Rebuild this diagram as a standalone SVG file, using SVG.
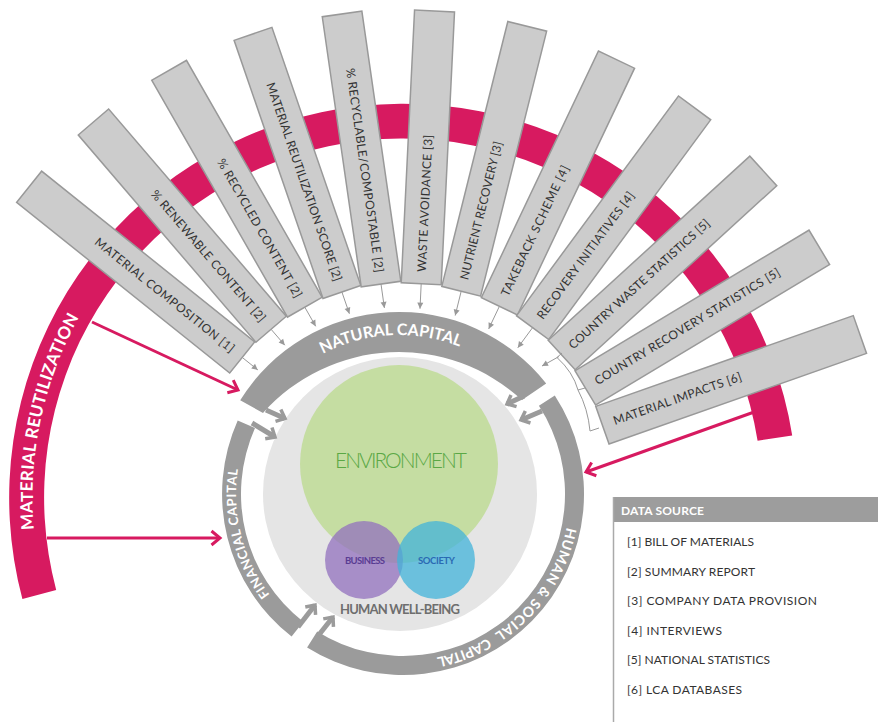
<svg xmlns="http://www.w3.org/2000/svg" width="878" height="722" viewBox="0 0 878 722">
  <defs>
    <style>
      .lbl { font-family: Lato, "DejaVu Sans", sans-serif; }
      .box rect { fill: #cccccc; stroke: #999999; stroke-width: 1.5; }
      .box text { font-family: Lato, "DejaVu Sans", sans-serif; font-size: 12px; fill: #333333; }
      .band { fill: #9b9b9b; }
      .bandtxt { font-family: Lato, "DejaVu Sans", sans-serif; font-weight: bold; fill: #ffffff; }
      .thin { fill: none; stroke: #999999; stroke-width: 1; }
      .thick { fill: none; stroke: #9b9b9b; stroke-width: 5; marker-end: url(#chev); }
      .pink { fill: none; stroke: #d71a60; stroke-width: 3; marker-end: url(#chevPink); }
      .legend text { font-family: Lato, "DejaVu Sans", sans-serif; font-size: 12px; fill: #333333; }
    </style>
    <marker id="tip" markerUnits="userSpaceOnUse" markerWidth="8" markerHeight="8" refX="6" refY="3" orient="auto" overflow="visible">
      <path d="M0,0 L6,3 L0,6 Z" fill="#999999"/>
    </marker>
    <marker id="chev" markerUnits="userSpaceOnUse" markerWidth="14" markerHeight="16" refX="9" refY="7.5" orient="auto" overflow="visible">
      <path d="M1.5,1 L9,7.5 L1.5,14" fill="none" stroke="#9b9b9b" stroke-width="3.5"/>
    </marker>
    <marker id="chevPink" markerUnits="userSpaceOnUse" markerWidth="14" markerHeight="18" refX="10" refY="8" orient="auto" overflow="visible">
      <path d="M1.5,1 L10,8 L1.5,15" fill="none" stroke="#d71a60" stroke-width="3"/>
    </marker>
    <!-- baselines for curved labels -->
    <path id="magArc" d="M 92.3,698.8 A 370.5 370.5 0 0 1 201.2,186.3"/>
    <path id="natArc" d="M 252.9,424.5 A 164 164 0 0 1 536.5,409.7"/>
    <path id="finArc" d="M 305.6,629.6 A 167 167 0 0 1 252.5,421.6"/>
    <path id="humArc" d="M 564.3,450.8 A 167 167 0 0 1 359.8,655.3"/>
  </defs>

  <rect width="878" height="722" fill="#ffffff"/>

  <!-- outer magenta band -->
  <g id="material-reutilization">
    <path d="M 22.4,599 A 394 394 0 1 1 792.2,435.4 L 757.6,440.8 A 359 359 0 1 0 56.2,589.9 Z" fill="#d71a60"/>
    <text class="bandtxt" font-size="17"><textPath href="#magArc" startOffset="50%" text-anchor="middle" textLength="220">MATERIAL REUTILIZATION</textPath></text>
  </g>

  <!-- core: well-being disk with overlapping circles -->
  <g id="human-well-being">
    <circle cx="400" cy="494" r="137" fill="#e5e5e5"/>
    <text class="lbl" x="400" y="614" text-anchor="middle" font-size="13" font-weight="bold" fill="#6e6e6e" textLength="120">HUMAN WELL-BEING</text>
  </g>
  <g id="environment">
    <circle cx="399" cy="464" r="99" fill="#c5dda2"/>
    <text class="lbl" x="401" y="468" text-anchor="middle" font-size="21" font-weight="300" fill="#5aa845" textLength="132">ENVIRONMENT</text>
  </g>
  <g id="business">
    <circle cx="364" cy="560" r="39" fill="#9270bd" fill-opacity="0.75"/>
  </g>
  <g id="society">
    <circle cx="436" cy="560" r="39" fill="#41b3d9" fill-opacity="0.75"/>
  </g>
  <text class="lbl" x="365" y="564" text-anchor="middle" font-size="9.5" font-weight="bold" fill="#5a3d93" textLength="40">BUSINESS</text>
  <text class="lbl" x="436.5" y="564" text-anchor="middle" font-size="9.5" font-weight="bold" fill="#2a6ab3" textLength="37">SOCIETY</text>

  <!-- capital ring -->
  <g id="natural-capital">
    <path class="band" d="M 240.2,400.2 A 187 187 0 0 1 546.2,383.6 L 522,400 A 182 182 0 0 0 263,413 Z"/>
    <text class="bandtxt" font-size="16"><textPath href="#natArc" startOffset="50%" text-anchor="middle" textLength="141">NATURAL CAPITAL</textPath></text>
  </g>
  <g id="financial-capital">
    <path class="band" d="M 237.7,420.4 A 181 181 0 0 0 291.6,636.6 L 303.3,621.7 A 162 162 0 0 1 255,428.1 Z"/>
    <text class="bandtxt" font-size="13"><textPath href="#finArc" startOffset="50%" text-anchor="middle" textLength="133">FINANCIAL CAPITAL</textPath></text>
  </g>
  <g id="human-social-capital">
    <path class="band" d="M 307.1,647.5 A 181 181 0 0 0 554.8,395.4 L 538.9,405.8 A 162 162 0 0 1 317.2,631.4 Z"/>
    <text class="bandtxt" font-size="14"><textPath href="#humArc" startOffset="77" textLength="132">HUMAN &amp; SOCIAL</textPath></text>
    <text class="bandtxt" font-size="14"><textPath href="#humArc" startOffset="217" textLength="55">CAPITAL</textPath></text>
  </g>

  <!-- indicator boxes (left half reads inward, right half reads outward) -->
  <g id="material-composition" class="box" transform="translate(242.2,357.4) rotate(38.7)">
    <rect x="-273" y="-20" width="273" height="40"/>
    <text x="-12" y="4" text-anchor="end" textLength="175">MATERIAL COMPOSITION [1]</text>
  </g>
  <g id="renewable-content" class="box" transform="translate(271.1,329.3) rotate(49.4)">
    <rect x="-273" y="-20" width="273" height="40"/>
    <text x="-12" y="4" text-anchor="end" textLength="169">% RENEWABLE CONTENT [2]</text>
  </g>
  <g id="recycled-content" class="box" transform="translate(304.8,307.2) rotate(60.2)">
    <rect x="-273" y="-20" width="273" height="40"/>
    <text x="-12" y="4" text-anchor="end" textLength="158">% RECYCLED CONTENT [2]</text>
  </g>
  <g id="reutilization-score" class="box" transform="translate(341.9,292) rotate(71)">
    <rect x="-273" y="-20" width="273" height="40"/>
    <text x="-12" y="4" text-anchor="end" textLength="209">MATERIAL REUTILIZATION SCORE [2]</text>
  </g>
  <g id="recyclable-compostable" class="box" transform="translate(381,284.1) rotate(81.8)">
    <rect x="-273" y="-20" width="273" height="40"/>
    <text x="-12" y="4" text-anchor="end" textLength="206">% RECYCLABLE/COMPOSTABLE [2]</text>
  </g>
  <g id="waste-avoidance" class="box" transform="translate(421.2,283.7) rotate(-87.2)">
    <rect x="0" y="-20" width="273" height="40"/>
    <text x="12" y="4" textLength="137">WASTE AVOIDANCE [3]</text>
  </g>
  <g id="nutrient-recovery" class="box" transform="translate(461.2,291.2) rotate(-76)">
    <rect x="0" y="-20" width="273" height="40"/>
    <text x="12" y="4" textLength="142">NUTRIENT RECOVERY [3]</text>
  </g>
  <g id="takeback-scheme" class="box" transform="translate(499.4,306.3) rotate(-64.6)">
    <rect x="0" y="-20" width="273" height="40"/>
    <text x="12" y="4" textLength="143">TAKEBACK SCHEME [4]</text>
  </g>
  <g id="recovery-initiatives" class="box" transform="translate(532.6,327.6) rotate(-53.6)">
    <rect x="0" y="-20" width="273" height="40"/>
    <text x="12" y="4" textLength="155">RECOVERY INITIATIVES [4]</text>
  </g>
  <g id="country-waste-statistics" class="box" transform="translate(561.7,355) rotate(-42.4)">
    <rect x="0" y="-20" width="273" height="40"/>
    <text x="12" y="4" textLength="186">COUNTRY WASTE STATISTICS [5]</text>
  </g>
  <g id="country-recovery-statistics" class="box" transform="translate(585.3,387.9) rotate(-31)">
    <rect x="0" y="-20" width="273" height="40"/>
    <text x="12" y="4" textLength="214">COUNTRY RECOVERY STATISTICS [5]</text>
  </g>
  <g id="material-impacts" class="box" transform="translate(602.4,425.2) rotate(-19.4)">
    <rect x="0" y="-20" width="273" height="40"/>
    <text x="12" y="4" textLength="135">MATERIAL IMPACTS [6]</text>
  </g>

  <!-- connectors -->
  <g id="connectors">
    <g class="thin" marker-end="url(#tip)">
      <line x1="242.2" y1="357.4" x2="257.8" y2="369.9"/>
      <line x1="271.1" y1="329.3" x2="284.8" y2="345.2"/>
      <line x1="304.8" y1="307.2" x2="315.7" y2="326.3"/>
      <line x1="341.9" y1="292" x2="349.4" y2="313.7"/>
      <line x1="381" y1="284.1" x2="384.4" y2="307.9"/>
      <line x1="421.2" y1="283.7" x2="420" y2="308.7"/>
      <line x1="461.2" y1="291.2" x2="455.2" y2="315.5"/>
      <line x1="499.4" y1="306.3" x2="488.7" y2="328.9"/>
      <line x1="532.6" y1="327.6" x2="517.8" y2="347.7"/>
      <line x1="559" y1="356.5" x2="542" y2="366"/>
    </g>
    <path class="thin" d="M 562,353 L 557,357.5 Q 573,372 578,390 L 585,388 M 578,390 Q 588,409 590,431 L 599,428"/>

    <path class="thick" d="M 266,410 L 285,418.5"/>
    <path class="thick" d="M 252,423 L 275,437"/>
    <path class="thick" d="M 524,396 L 507,404"/>
    <path class="thick" d="M 542,411 L 521,420"/>
    <path class="thick" d="M 298,627 L 315,605"/>
    <path class="thick" d="M 318,636 L 333,617"/>

    <path class="pink" d="M 92,322 L 238,390"/>
    <path class="pink" d="M 47,538 L 220,538"/>
    <path class="pink" d="M 757,411 L 586,472"/>
  </g>

  <!-- data source legend -->
  <g id="data-source" class="legend">
    <rect x="613" y="497" width="265" height="25" fill="#9d9d9d"/>
    <line x1="613.5" y1="497" x2="613.5" y2="722" stroke="#aaaaaa" stroke-width="1.5"/>
    <text x="621" y="515" font-weight="bold" style="fill:#ffffff" textLength="83">DATA SOURCE</text>
    <text x="627" y="545.5" textLength="127">[1] BILL OF MATERIALS</text>
    <text x="627" y="575.5" textLength="128">[2] SUMMARY REPORT</text>
    <text x="627" y="605" textLength="190">[3] COMPANY DATA PROVISION</text>
    <text x="627" y="634.5" textLength="95">[4] INTERVIEWS</text>
    <text x="627" y="664" textLength="143">[5] NATIONAL STATISTICS</text>
    <text x="627" y="694" textLength="115">[6] LCA DATABASES</text>
  </g>
</svg>
